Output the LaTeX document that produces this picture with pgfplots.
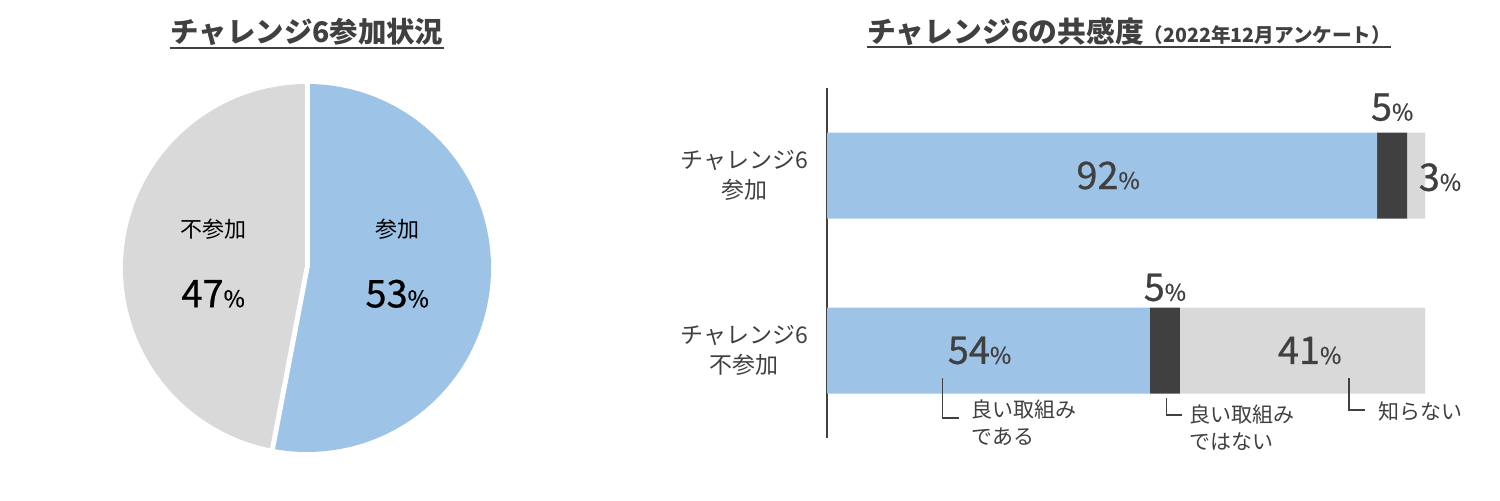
\documentclass[border=0pt]{standalone}
\usepackage{pgfplots}
\pgfplotsset{compat=1.18}
\usepackage{fontspec}
\setmainfont{Noto Sans CJK JP}
\newfontfamily\numfont{Noto Sans CJK JP}[FakeBold=0.6]

\definecolor{txt}{HTML}{404040}
\definecolor{cblue}{HTML}{9DC3E6}
\definecolor{cdark}{HTML}{404040}
\definecolor{cgray}{HTML}{D9D9D9}

% pie values (%)
\def\sanka{53}
\def\fusanka{47}

\newcommand{\pct}[1]{{\numfont\fontsize{19}{19}\selectfont #1}{\numfont\fontsize{11.5}{11.5}\selectfont \%}}

\pgfplotsset{barbox/.style={at={(413.5pt,31pt)}, anchor=south west, scale only axis,
  width=299pt, height=175pt, xmin=0, xmax=100, ymin=-0.5, ymax=1.5, clip=false}}

\begin{document}
\begin{tikzpicture}
\path[use as bounding box] (0,0) rectangle (750pt,250pt);

% titles
\node[text=txt, font=\fontsize{14.2}{14.2}\selectfont\bfseries, inner sep=0pt] (t1) at (153.5pt,234pt) {チャレンジ6参加状況};
\draw[txt, line width=1pt] (t1.west |- 0,226pt) -- (t1.east |- 0,226pt);
\node[text=txt, anchor=west, inner sep=0pt] (t2) at (433.5pt,234pt)
  {{\fontsize{14.4}{14.4}\selectfont\bfseries チャレンジ6の共感度}{\fontsize{9.8}{10}\selectfont\bfseries （2022年12月アンケート）}};
\draw[txt, line width=1pt] (t2.west |- 0,226.5pt) -- (t2.east |- 0,226.5pt);

% pie
\begin{axis}[at={(153.5pt,116pt)}, anchor=center, scale only axis,
  width=184pt, height=184pt, xmin=-1, xmax=1, ymin=-1, ymax=1,
  hide axis, clip=false]
\pgfmathsetmacro\angA{\sanka/100*360}
\pgfmathsetmacro\angB{\fusanka/100*360}
\fill[cblue] (axis cs:0,0) -- ++(90:92pt) arc[start angle=90, delta angle=-\angA, radius=92pt] -- cycle;
\fill[cgray] (axis cs:0,0) -- ++(90:92pt) arc[start angle=90, delta angle=\angB, radius=92pt] -- cycle;
\draw[white, line width=2.5pt] (axis cs:0,0) -- ++(90:93pt);
\draw[white, line width=2.5pt] (axis cs:0,0) -- ++(90-\angA:93pt);
\node[font=\fontsize{11}{11}\selectfont] at (axis cs:0.49,0.21) {参加};
\node at (axis cs:0.49,-0.14) {\pct{\sanka}};
\node[font=\fontsize{11}{11}\selectfont] at (axis cs:-0.51,0.21) {不参加};
\node at (axis cs:-0.51,-0.14) {\pct{\fusanka}};
\end{axis}

% stacked bars
\begin{axis}[barbox,
  xbar stacked, bar width=43pt,
  axis x line=none, axis y line*=left,
  axis line style={-, line width=1pt, draw=txt},
  ytick={0,1}, yticklabels={{チャレンジ6\\不参加},{チャレンジ6\\参加}},
  major tick length=0pt,
  yticklabel style={align=center, text=txt, font=\fontsize{11.5}{15}\selectfont, xshift=-6pt}]
\addplot[fill=cblue, draw=none] coordinates {(54,0) (92,1)};
\addplot[fill=cdark, draw=none] coordinates {(5,0) (5,1)};
\addplot[fill=cgray, draw=none] coordinates {(41,0) (3,1)};
\end{axis}

% labels and callouts on top of the bars
\begin{axis}[barbox, hide axis]
\node[text=txt] at (axis cs:47,1) {\pct{92}};
\node[text=txt] at (axis cs:94.5,1.39) {\pct{5}};
\node[text=txt] at (axis cs:102.5,0.99) {\pct{3}};
\node[text=txt] at (axis cs:25.5,0) {\pct{54}};
\node[text=txt] at (axis cs:56.5,0.36) {\pct{5}};
\node[text=txt] at (axis cs:80.7,0) {\pct{41}};

\draw[txt, line width=0.75pt] (axis cs:19.3,-0.157) |- (axis cs:22.1,-0.386);
\node[text=txt, anchor=west, align=left, font=\fontsize{10.5}{13.5}\selectfont, inner sep=0pt] at (axis cs:24.1,-0.41) {良い取組み\\である};
\draw[txt, line width=0.75pt] (axis cs:56.8,-0.271) |- (axis cs:59.3,-0.369);
\node[text=txt, anchor=west, align=left, font=\fontsize{10.5}{13.5}\selectfont, inner sep=0pt] at (axis cs:60.6,-0.44) {良い取組み\\ではない};
\draw[txt, line width=0.75pt] (axis cs:87.3,-0.157) |- (axis cs:90.0,-0.340);
\node[text=txt, anchor=west, font=\fontsize{10.5}{13.5}\selectfont, inner sep=0pt] at (axis cs:92.1,-0.351) {知らない};
\end{axis}
\end{tikzpicture}
\end{document}
